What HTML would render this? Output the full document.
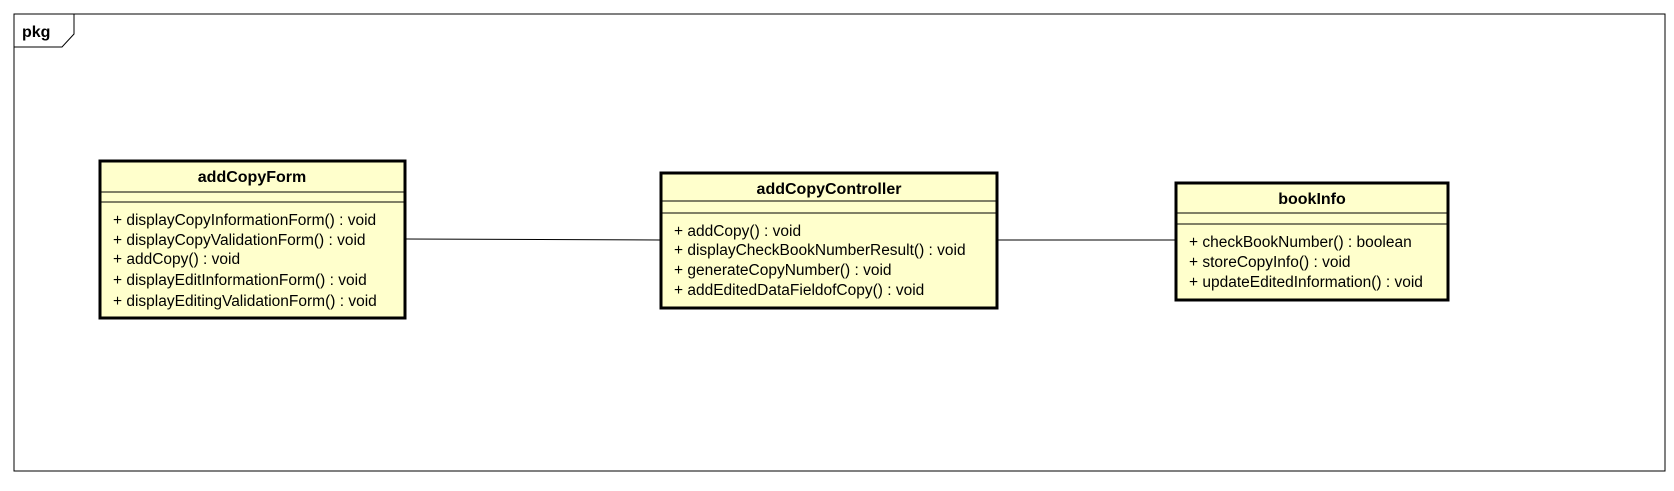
<!DOCTYPE html>
<html><head><style>
body{margin:0;background:#fff;}
text{font-family:"Liberation Sans",Arial,sans-serif;font-size:15.5px;fill:#000;}
.t{font-weight:bold;text-anchor:middle;font-size:16px;}
</style></head><body>
<svg width="1674" height="486" xmlns="http://www.w3.org/2000/svg">
<rect width="1674" height="486" fill="#fff"/>
<rect x="14" y="14" width="1651" height="457" fill="none" stroke="#000" stroke-width="1"/>
<polyline points="14,47 62,47 74,34 74,14" fill="none" stroke="#000" stroke-width="1"/>
<text x="22" y="37" style="font-weight:bold;font-size:16px">pkg</text>

<line x1="405" y1="239" x2="661" y2="240" stroke="#000" stroke-width="1"/>
<line x1="997" y1="240" x2="1176" y2="240" stroke="#000" stroke-width="1"/>

<g>
<rect x="100" y="161" width="305" height="157" fill="#ffffcc" stroke="#000" stroke-width="3"/>
<line x1="100" y1="192" x2="405" y2="192" stroke="#000"/>
<line x1="100" y1="202" x2="405" y2="202" stroke="#000"/>
<text class="t" x="252" y="182">addCopyForm</text>
<text x="113" y="225">+ displayCopyInformationForm() : void</text>
<text x="113" y="245">+ displayCopyValidationForm() : void</text>
<text x="113" y="264">+ addCopy() : void</text>
<text x="113" y="285">+ displayEditInformationForm() : void</text>
<text x="113" y="306">+ displayEditingValidationForm() : void</text>
</g>

<g>
<rect x="661" y="173" width="336" height="135" fill="#ffffcc" stroke="#000" stroke-width="3"/>
<line x1="661" y1="201" x2="997" y2="201" stroke="#000"/>
<line x1="661" y1="213" x2="997" y2="213" stroke="#000"/>
<text class="t" x="829" y="194">addCopyController</text>
<text x="674" y="236">+ addCopy() : void</text>
<text x="674" y="255">+ displayCheckBookNumberResult() : void</text>
<text x="674" y="275">+ generateCopyNumber() : void</text>
<text x="674" y="295">+ addEditedDataFieldofCopy() : void</text>
</g>

<g>
<rect x="1176" y="183" width="272" height="117" fill="#ffffcc" stroke="#000" stroke-width="3"/>
<line x1="1176" y1="213" x2="1448" y2="213" stroke="#000"/>
<line x1="1176" y1="224" x2="1448" y2="224" stroke="#000"/>
<text class="t" x="1312" y="204">bookInfo</text>
<text x="1189" y="247">+ checkBookNumber() : boolean</text>
<text x="1189" y="267">+ storeCopyInfo() : void</text>
<text x="1189" y="287">+ updateEditedInformation() : void</text>
</g>
</svg>
</body></html>
